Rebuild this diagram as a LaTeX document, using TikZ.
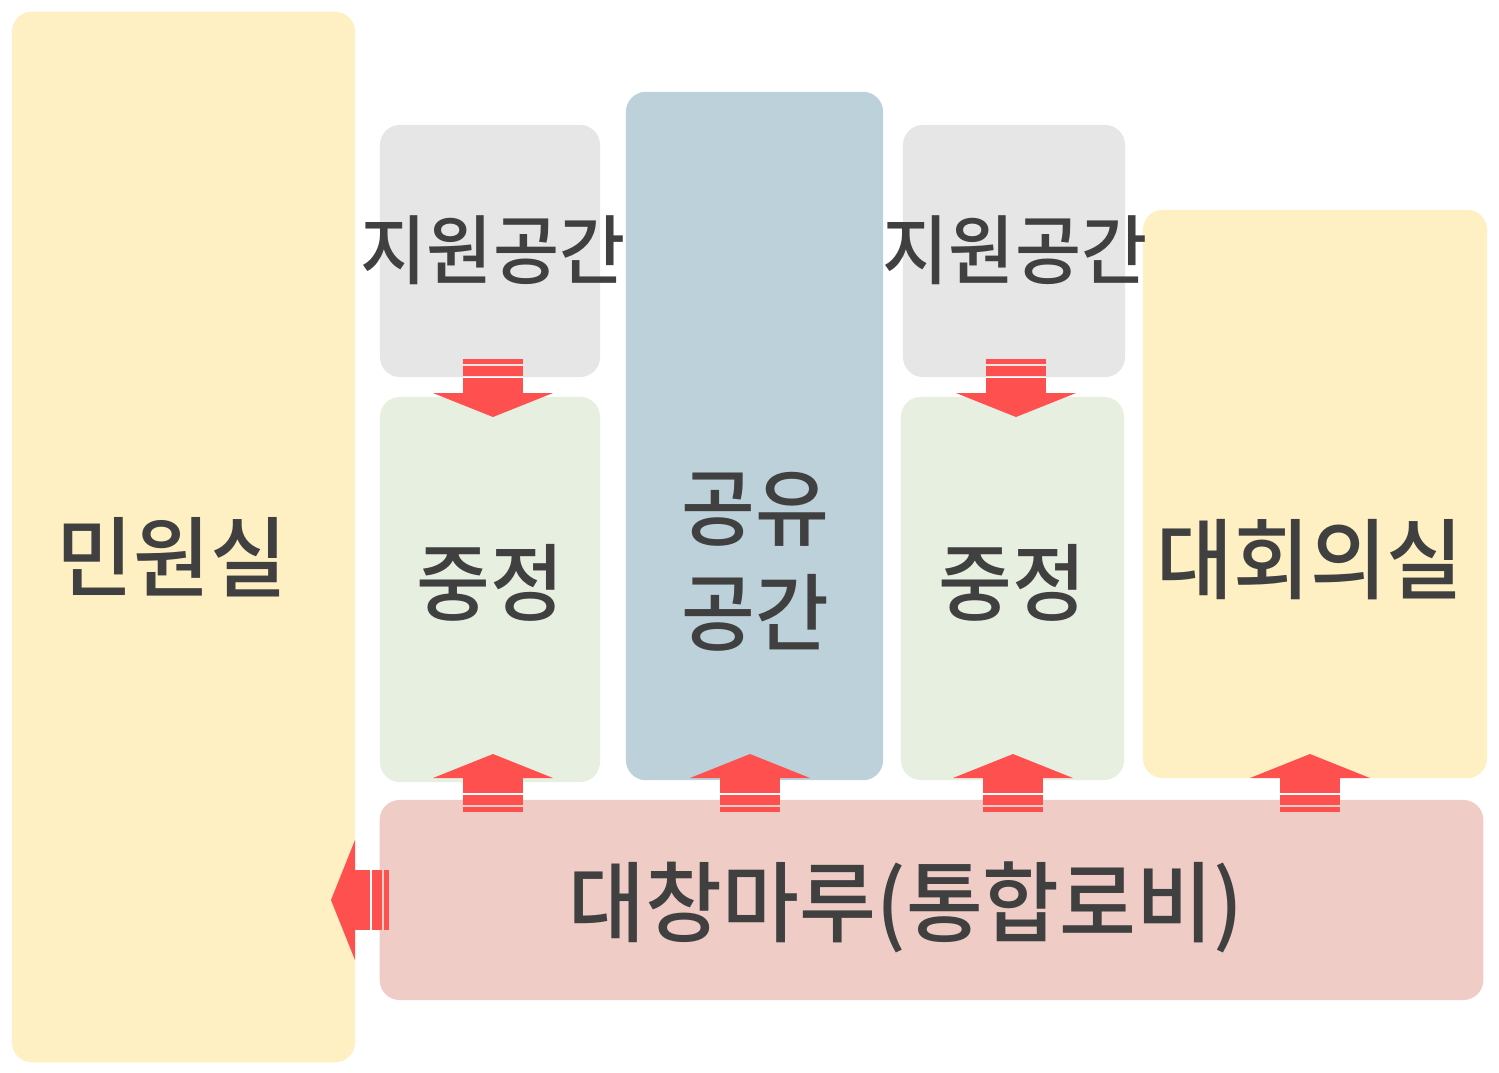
\documentclass[tikz,border=0pt]{standalone}
\usepackage{fontspec}
\newfontfamily\krfont{Noto Sans CJK KR}[FakeStretch=0.95, BoldFont={* Medium}]
\definecolor{roomyellow}{HTML}{FEF0C3}
\definecolor{roomgray}{HTML}{E6E6E6}
\definecolor{roomgreen}{HTML}{E7F0E0}
\definecolor{roomblue}{HTML}{BCD1D9}
\definecolor{roompink}{HTML}{EFCCC6}
\definecolor{flowred}{HTML}{FF5050}
\definecolor{labelgray}{HTML}{404040}
\tikzset{
  room/.style={rounded corners=2mm, inner sep=0pt},
  lbl/.style={text=labelgray, inner sep=0pt, font=\krfont\bfseries\fontsize{#1}{#1}\selectfont},
  lbl/.default=25,
  flow/.pic={
    \fill[flowred] (0,0) -- (60,24) -- (-60,24) -- cycle;
    \fill[flowred] (-30,24) rectangle (30,39);
    \fill[flowred] (-30,41) rectangle (30,51);
    \fill[flowred] (-30,53) rectangle (30,58);
  }
}
\begin{document}
\begin{tikzpicture}[x=0.01cm, y=-0.01cm]
  \useasboundingbox (0,0) rectangle (1499,1072);
  % rooms
  \node[room, fill=roomyellow, minimum width=3.43cm, minimum height=10.5cm] (minwon) at (183.5,537) {};
  \node[room, fill=roomgray, minimum width=2.2cm, minimum height=2.52cm] (jiwonA) at (490,251) {};
  \node[room, fill=roomgreen, minimum width=2.2cm, minimum height=3.85cm] (jungA) at (490,589.5) {};
  \node[room, fill=roomblue, minimum width=2.57cm, minimum height=6.88cm] (gongyu) at (754.5,436) {};
  \node[room, fill=roomgray, minimum width=2.22cm, minimum height=2.52cm] (jiwonB) at (1014,251) {};
  \node[room, fill=roomgreen, minimum width=2.23cm, minimum height=3.83cm] (jungB) at (1012.5,588.5) {};
  \node[room, fill=roomyellow, minimum width=3.44cm, minimum height=5.68cm] (daehoe) at (1315,494) {};
  \node[room, fill=roompink, minimum width=11.03cm, minimum height=2cm] (daechang) at (931.5,900) {};
  % labels
  \node[lbl=21.5] (jiwonAtxt) at (493,250) {지원공간};
  \node[lbl=21.5] (jiwonBtxt) at (1015,250) {지원공간};
  \node[lbl] (minwontxt) at (172,557) {민원실};
  \node[lbl=24] (jungAtxt) at (490,583) {중정};
  \node[lbl=24] (jungBtxt) at (1012,583) {중정};
  \node[lbl=24, align=center, font=\krfont\bfseries\fontsize{24}{30}\selectfont] (gongyutxt) at (755,562) {공유\\공간};
  \node[lbl] (daehoetxt) at (1310,560) {대회의실};
  \node[lbl] (daechangtxt) at (906,907) {대창마루(통합로비)};
  % flows
  \pic[rotate=180] at (493,417) {flow};
  \pic[rotate=180] at (1016,417) {flow};
  \foreach \x in {493,750,1013,1310}
    \pic at (\x,754) {flow};
  \pic[rotate=90] at (331,900) {flow};
\end{tikzpicture}
\end{document}
